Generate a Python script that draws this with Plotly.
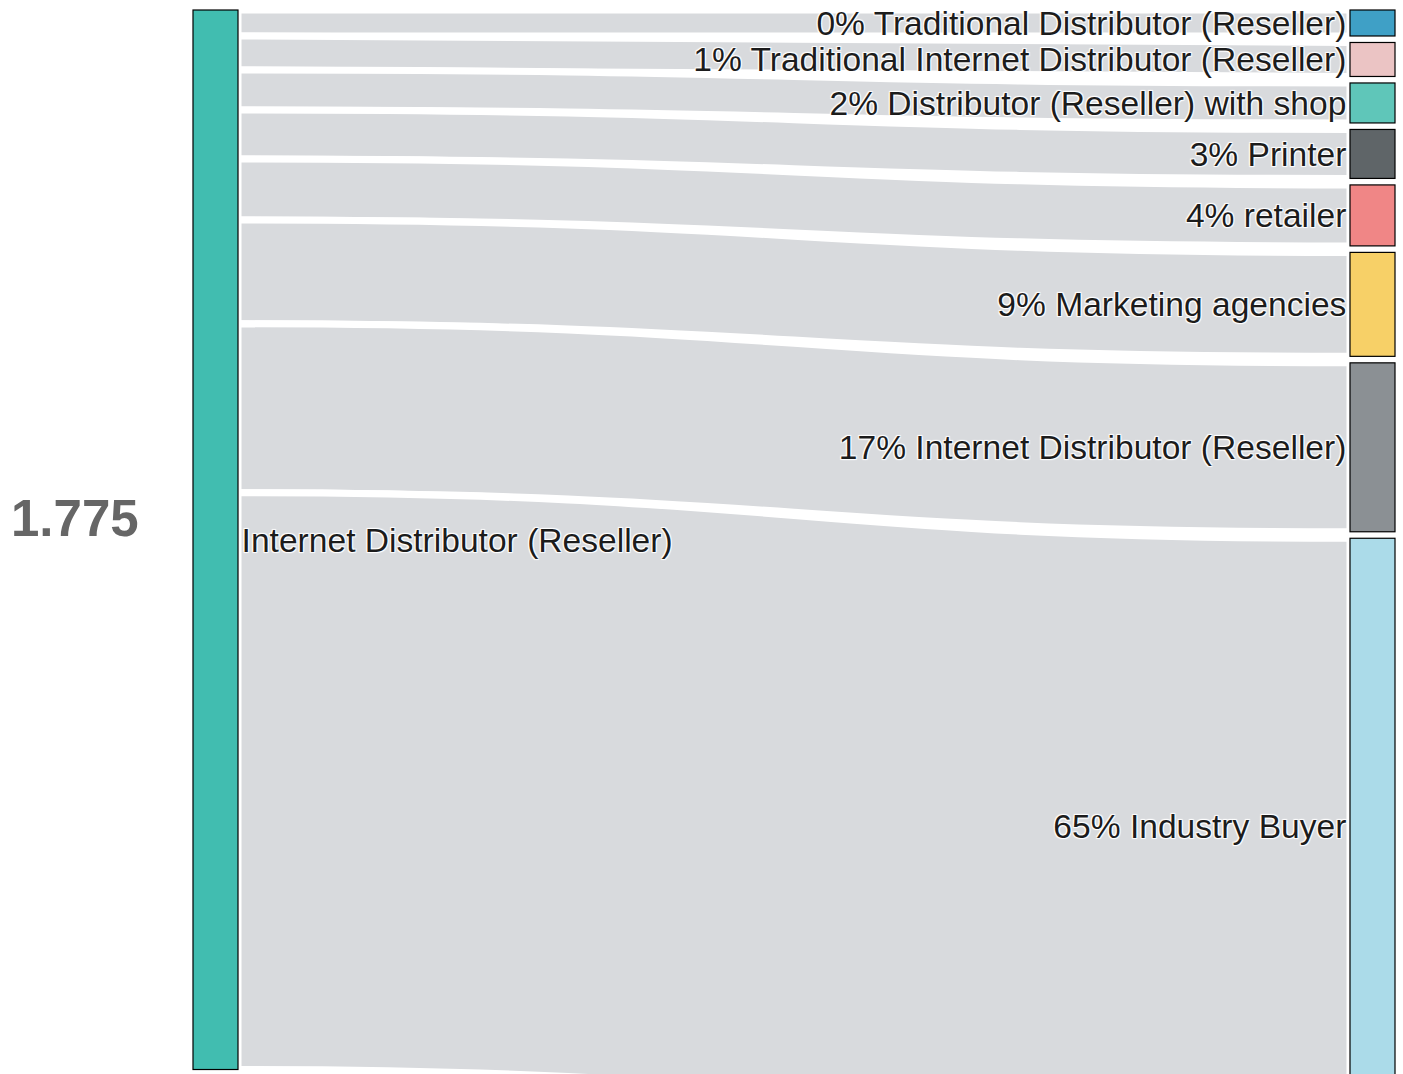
import plotly.graph_objects as go

# Flow data: one source channel split into its customer groups
source_label = "Internet Distributor (Reseller)"
target_labels = [
    "0% Traditional Distributor (Reseller)",
    "1% Traditional Internet Distributor (Reseller)",
    "2% Distributor (Reseller) with shop",
    "3% Printer",
    "4% retailer",
    "9% Marketing agencies",
    "17% Internet Distributor (Reseller)",
    "65% Industry Buyer",
]
flow_values = [26, 34, 40, 49, 61, 104, 169, 577]
total_label = "1.775"

source_color = "#41bdb0"
source_outline = "#3a8a80"
target_colors = ["#3fa0c6", "#ebc4c4", "#5fc6b9", "#5f6568",
                 "#f08686", "#f7d067", "#8b9094", "#abdbe9"]
target_outlines = ["#3a7f9c", "#b89c9c", "#4f9e94", "#4a4f52",
                   "#c07070", "#c0a050", "#6f7478", "#7fa9b6"]

# Figure geometry
fig_w, fig_h = 1403, 1120
m_l, m_r, m_t, m_b = 193, 8, 10, 4.5
plot_w = fig_w - m_l - m_r
plot_h = fig_h - m_t - m_b
pad = 6.5
thickness = 45

total = sum(flow_values)
ky = (plot_h - (len(flow_values) - 1) * pad) / total

# Node centres (fractions of the plot area, y measured from the top)
xs = [thickness / 2 / plot_w]
ys = [total * ky / 2 / plot_h]
top = 0.0
for v in flow_values:
    xs.append((plot_w - thickness / 2) / plot_w)
    ys.append((top + v * ky / 2) / plot_h)
    top += v * ky + pad

labels = [source_label] + target_labels
colors = [source_color] + target_colors
outlines = [source_outline] + target_outlines

fig = go.Figure(go.Sankey(
    arrangement="fixed",
    node=dict(
        label=labels,
        color=colors,
        line=dict(color=outlines, width=1.2),
        pad=pad,
        thickness=thickness,
        x=xs,
        y=ys,
    ),
    link=dict(
        source=[0] * len(flow_values),
        target=list(range(1, len(flow_values) + 1)),
        value=flow_values,
        color="rgb(216,218,221)",
        line=dict(color="white", width=7),
    ),
    textfont=dict(family="Liberation Sans, Arial, sans-serif", size=33.6, color="#1c1c1c"),
))

fig.add_annotation(
    text="<b>" + total_label + "</b>",
    xref="paper", yref="paper",
    x=(75 - m_l) / plot_w,
    y=1 - (519 - m_t) / plot_h,
    xanchor="center", yanchor="middle",
    showarrow=False,
    font=dict(family="Liberation Sans, Arial, sans-serif", size=51, color="#666666"),
)

fig.update_layout(
    width=fig_w,
    height=fig_h,
    margin=dict(l=m_l, r=m_r, t=m_t, b=m_b, pad=0),
    paper_bgcolor="white",
    plot_bgcolor="white",
)

fig.write_html(
    "out.html",
    post_script="document.body.style.overflow='hidden';"
                "document.documentElement.style.overflow='hidden';",
)
